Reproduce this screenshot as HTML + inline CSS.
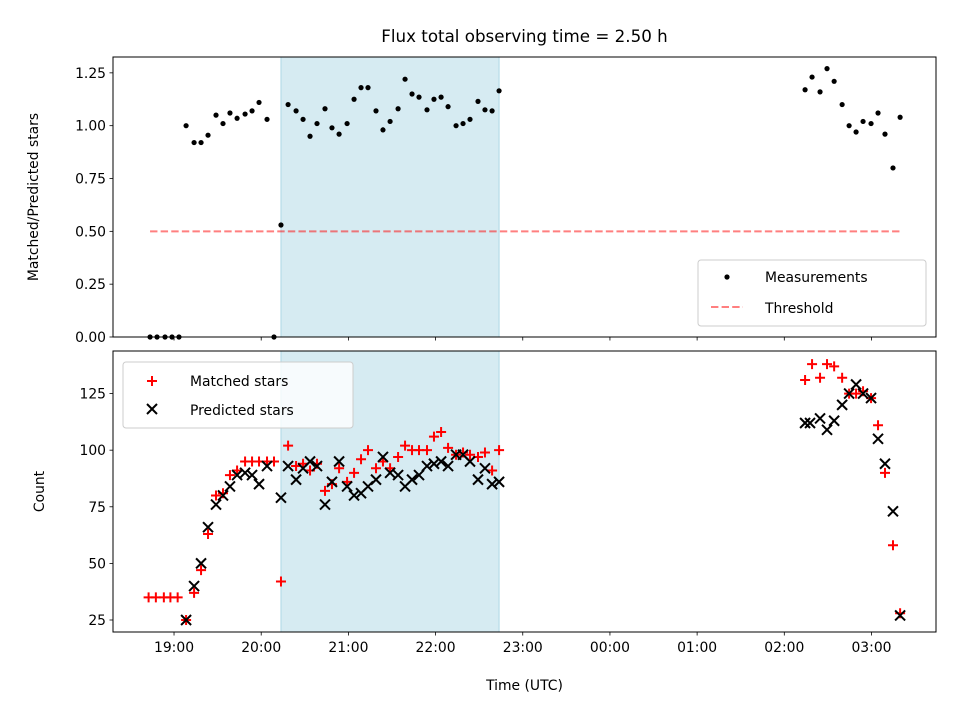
<!DOCTYPE html>
<html><head><meta charset="utf-8"><style>
body{margin:0;background:#fff;}
svg{font-family:"DejaVu Sans","Liberation Sans",sans-serif;}
</style></head><body>
<svg id="chart" width="960" height="720" viewBox="0 0 960 720"></svg>
<script>
// time = minutes since 19:00 UTC
const ratioTimes=[-16.5,-11.7,-6.2,-1.4,3.4,8.3,13.8,18.6,23.4,28.9,33.7,38.5,43.4,48.9,53.7,58.5,64,68.8,73.6,78.5,84,88.8,93.6,98.4,103.9,108.7,113.6,119.1,123.9,128.7,133.5,139,143.8,148.7,154.2,159,163.8,168.6,174.1,178.9,183.8,188.6,194.1,198.9,203.7,209.2,214,218.9,223.7,434.3,439.1,444.6,449.4,454.3,459.8,464.6,469.4,474.2,479.7,484.5,489.3,494.8,499.7];
const ratioValues=[0,0,0,0,0,1.0,0.92,0.92,0.955,1.05,1.01,1.06,1.035,1.055,1.07,1.11,1.03,0,0.53,1.10,1.07,1.03,0.95,1.01,1.08,0.99,0.96,1.01,1.125,1.18,1.18,1.07,0.98,1.02,1.08,1.22,1.15,1.135,1.075,1.125,1.135,1.09,1.0,1.01,1.03,1.115,1.075,1.07,1.165,1.17,1.23,1.16,1.27,1.21,1.10,1.00,0.97,1.02,1.01,1.06,0.96,0.80,1.04];
const matchedTimes=[-17.5,-12.5,-7,-2.5,2.5,8.3,13.8,18.6,23.4,28.9,33.7,38.5,43.4,48.9,53.7,58.5,64,68.8,73.6,78.5,84,88.8,93.6,98.4,103.9,108.7,113.6,119.1,123.9,128.7,133.5,139,143.8,148.7,154.2,159,163.8,168.6,174.1,178.9,183.8,188.6,194.1,198.9,203.7,209.2,214,218.9,223.7,434.3,439.1,444.6,449.4,454.3,459.8,464.6,469.4,474.2,479.7,484.5,489.3,494.8,499.7];
const matchedValues=[35,35,35,35,35,25,37,47,63,80,81,89,91,95,95,95,95,95,42,102,93,94,91,94,82,85,92,86,90,96,100,92,95,92,97,102,100,100,100,106,108,101,98,99,98,97,99,91,100,131,138,132,138,137,132,125,125,126,123,111,90,58,28];
const predictedTimes=[8.3,13.8,18.6,23.4,28.9,33.7,38.5,43.4,48.9,53.7,58.5,64,73.6,78.5,84,88.8,93.6,98.4,103.9,108.7,113.6,119.1,123.9,128.7,133.5,139,143.8,148.7,154.2,159,163.8,168.6,174.1,178.9,183.8,188.6,194.1,198.9,203.7,209.2,214,218.9,223.7,434.3,437.7,444.6,449.4,454.3,459.8,464.6,469.4,474.2,479.7,484.5,489.3,494.8,499.7];
const predictedValues=[25,40,50,66,76,80,84,89,90,89,85,93,79,93,87,92,95,93,76,86,95,84,80,81,84,87,97,90,89,84,87,89,93,94,95,93,98,98,95,87,92,85,86,112,112,114,109,113,120,125,129,125,123,105,94,73,27];
const xTicks=[0,60,120,180,240,300,360,420,480];
const xTickLabels=["19:00","20:00","21:00","22:00","23:00","00:00","01:00","02:00","03:00"];
const topTicks=[0,0.25,0.5,0.75,1.0,1.25];
const botTicks=[25,50,75,100,125];
const shadeSpan=[73.6,223.7];
const thresholdSpan=[-16.5,499.7];
const thresholdValue=0.5;

const NS="http://www.w3.org/2000/svg";
const svg=document.getElementById('chart');
function el(tag,attrs,parent,text){const e=document.createElementNS(NS,tag);for(const k in attrs)e.setAttribute(k,attrs[k]);if(text!==undefined)e.textContent=text;(parent||svg).appendChild(e);return e;}
const L=113,R=936;
const XMIN=-42,XMAX=524.4;
const xs=m=>L+(m-XMIN)*(R-L)/(XMAX-XMIN);
const T={top:57,bot:337,min:0,max:1.325};
const B={top:351,bot:632,min:19.7,max:143.8};
const ysT=v=>T.bot-(v-T.min)/(T.max-T.min)*(T.bot-T.top);
const ysB=v=>B.bot-(v-B.min)/(B.max-B.min)*(B.bot-B.top);

function panel(P,ys,ticks,fmt,name,ylabel,ylx){
  const g=el('g',{},svg);
  
  
  const sh=el('rect',{x:xs(shadeSpan[0]),y:P.top,width:xs(shadeSpan[1])-xs(shadeSpan[0]),height:P.bot-P.top,fill:'#add8e6','fill-opacity':0.5,stroke:'#add8e6','stroke-width':1},g);
  
  
  ticks.forEach(t=>{const y=ys(t);el('line',{x1:L-3.5,x2:L,y1:y,y2:y,stroke:'#000','stroke-width':0.8},g);
    const tx=el('text',{x:L-7,y:y+5,'font-size':13.9,'text-anchor':'end'},g,fmt(t));
    
    });
  xTicks.forEach(t=>{const x=xs(t);el('line',{x1:x,x2:x,y1:P.bot,y2:P.bot+3.5,stroke:'#000','stroke-width':0.8},g);});
  const yl=el('text',{transform:`translate(${ylx},${(P.top+P.bot)/2}) rotate(-90)`,'font-size':13.9,'text-anchor':'middle'},g,ylabel);
  
  
  return g;
}
const gT=panel(T,ysT,topTicks,v=>v.toFixed(2),'top-panel','Matched/Predicted stars',38);
const gB=panel(B,ysB,botTicks,v=>String(v),'bottom-panel','Count',44);

const thr=el('line',{x1:xs(thresholdSpan[0]),x2:xs(thresholdSpan[1]),y1:ysT(thresholdValue),y2:ysT(thresholdValue),stroke:'#ff0000','stroke-opacity':0.5,'stroke-width':2,'stroke-dasharray':'7.4,3.2'},gT);


ratioTimes.forEach((t,i)=>{const c=el('circle',{cx:xs(t),cy:ysT(ratioValues[i]),r:2.6,fill:'#000'},gT);
  
  });
matchedTimes.forEach((t,i)=>{const x=xs(t),y=ysB(matchedValues[i]);
  const p=el('path',{d:`M${x-5},${y}H${x+5}M${x},${y-5}V${y+5}`,stroke:'#ff0000','stroke-width':2},gB);
  
  });
predictedTimes.forEach((t,i)=>{const x=xs(t),y=ysB(predictedValues[i]);
  const p=el('path',{d:`M${x-5},${y-5}L${x+5},${y+5}M${x-5},${y+5}L${x+5},${y-5}`,stroke:'#000','stroke-width':2},gB);
  
  });

[T,B].forEach(P=>{const f=el('rect',{x:L,y:P.top,width:R-L,height:P.bot-P.top,fill:'none',stroke:'#000','stroke-width':1});
  
  });
xTicks.forEach((t,i)=>{const tx=el('text',{x:xs(t),y:B.bot+20,'font-size':13.9,'text-anchor':'middle'},svg,xTickLabels[i]);
  
  });
const xt=el('text',{x:(L+R)/2,y:690,'font-size':13.9,'text-anchor':'middle'},svg,'Time (UTC)');


const ti=el('text',{x:(L+R)/2,y:42,'font-size':16.7,'text-anchor':'middle'},svg,'Flux total observing time = 2.50 h');



// legends
const lg1=el('g',{},svg);


el('rect',{x:698,y:260,width:228,height:66,rx:3,fill:'#fff','fill-opacity':0.8,stroke:'#ccc'},lg1);
el('circle',{cx:727,cy:277,r:2.6,fill:'#000'},lg1);
el('text',{x:765,y:282,'font-size':13.9},lg1,'Measurements');
el('line',{x1:711,x2:743,y1:307,y2:307,stroke:'#ff0000','stroke-opacity':0.5,'stroke-width':2,'stroke-dasharray':'7.4,3.2'},lg1);
el('text',{x:765,y:313,'font-size':13.9},lg1,'Threshold');
const lg2=el('g',{},svg);


el('rect',{x:123,y:362,width:230,height:66,rx:3,fill:'#fff','fill-opacity':0.8,stroke:'#ccc'},lg2);
el('path',{d:'M147,381H157M152,376V386',stroke:'#ff0000','stroke-width':2},lg2);
el('text',{x:190,y:386,'font-size':13.9},lg2,'Matched stars');
el('path',{d:'M147,404L157,414M147,414L157,404',stroke:'#000','stroke-width':2},lg2);
el('text',{x:190,y:415,'font-size':13.9},lg2,'Predicted stars');
</script>
</body></html>
